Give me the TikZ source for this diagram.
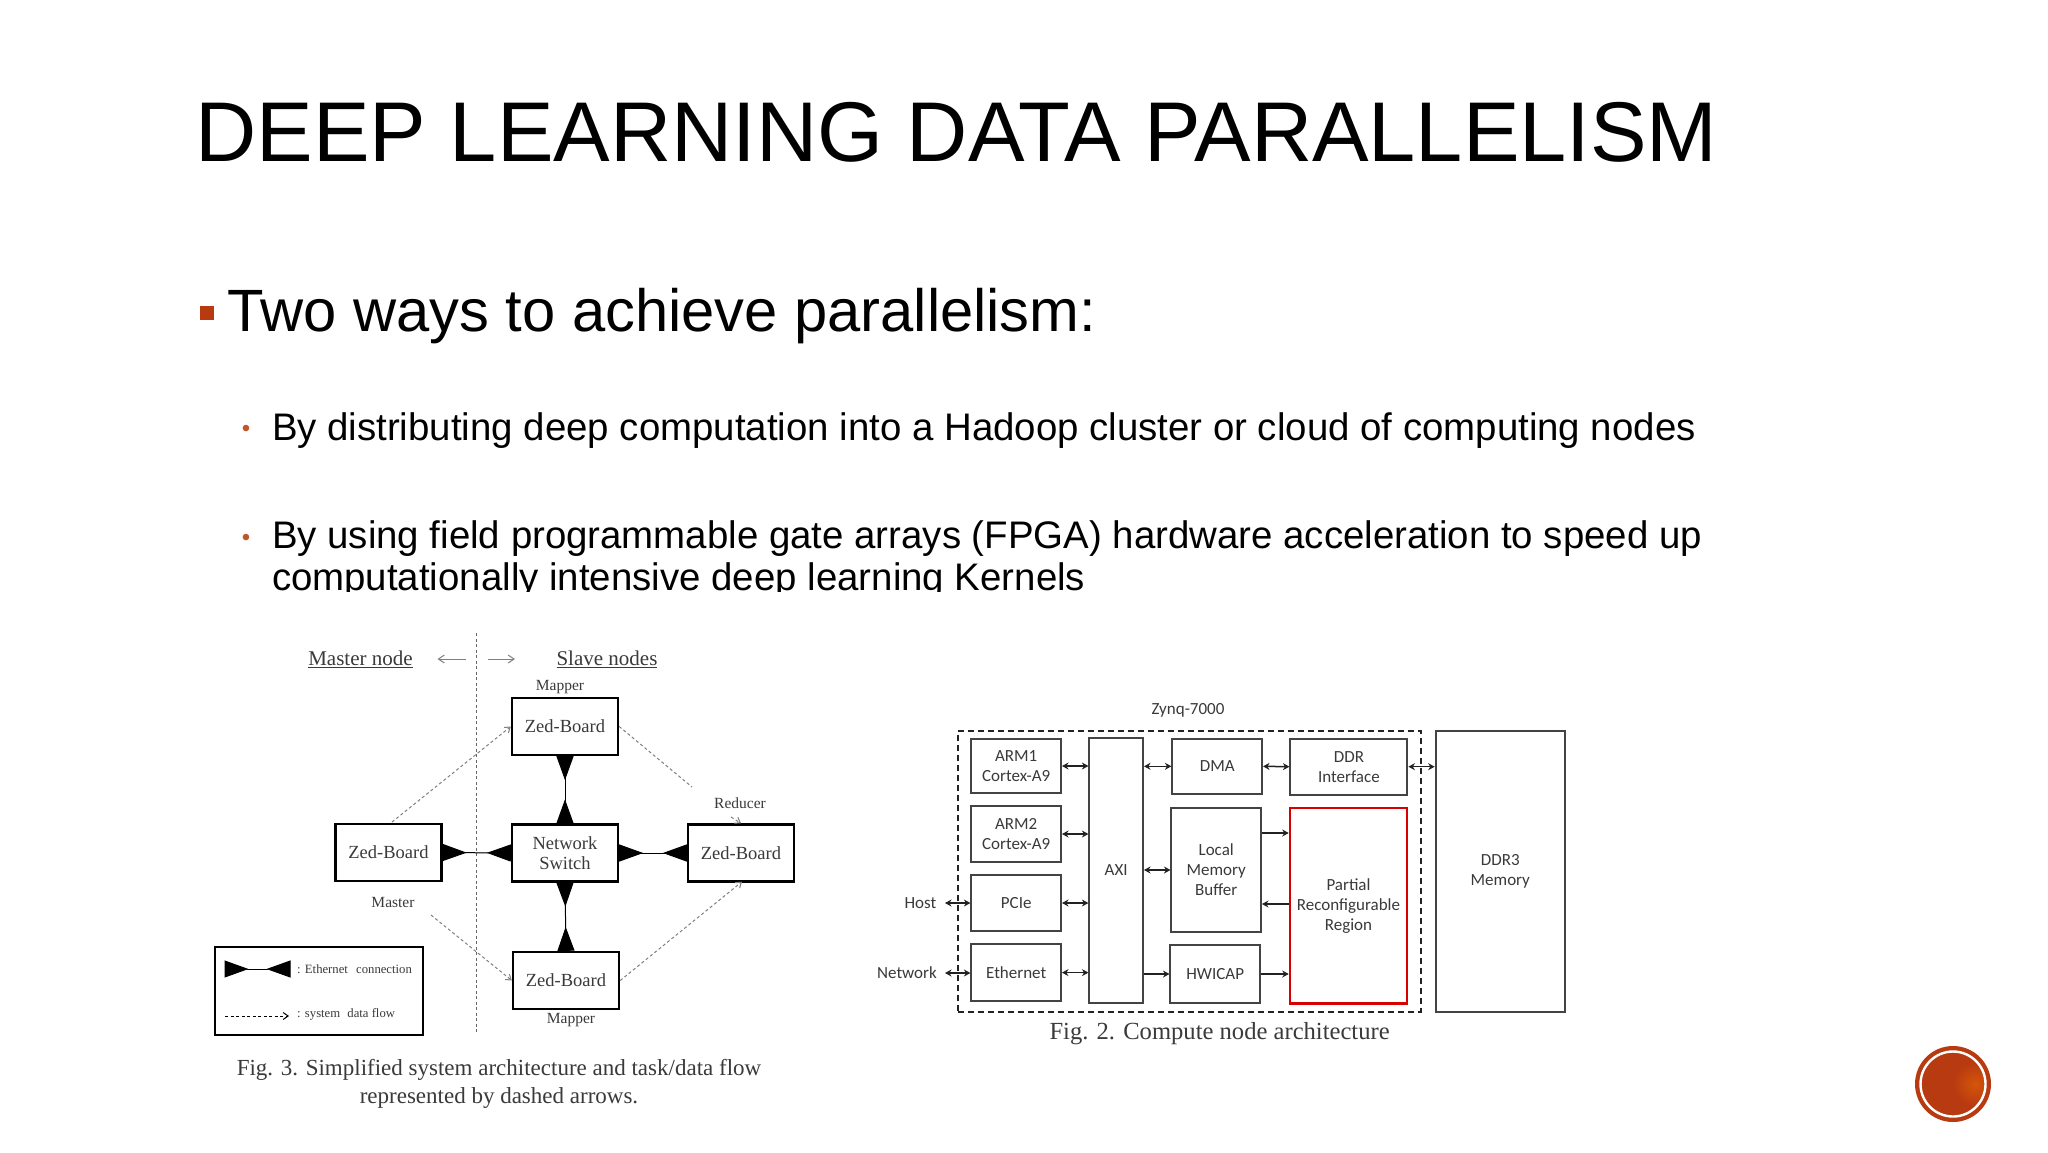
\documentclass[tikz,border=0pt]{standalone}
\usepackage{fontspec}
\setmainfont{Liberation Sans}
\newfontfamily\figserif{Liberation Serif}
\newfontfamily\figcal{Carlito}
\usetikzlibrary{arrows.meta,calc}
\definecolor{accent}{HTML}{B83A10}
\definecolor{bullet}{HTML}{C2552B}
\definecolor{figink}{HTML}{222222}
\definecolor{figtext}{HTML}{3A3A3A}
\newcommand{\fsz}[1]{\fontsize{#1}{#1}\selectfont}
\tikzset{
  x=1pt,y=-1pt,
  slidetext/.style={inner sep=0pt,outer sep=0pt,anchor=base west,text=black},
  zedbox/.style={draw=black,line width=2.4pt,minimum width=106pt,minimum height=57pt,inner sep=0pt,align=center,text=figtext,font=\figserif\fsz{18.5}},
  zedlabel/.style={inner sep=0pt,text=figtext,font=\figserif\fsz{15.5}},
  headlabel/.style={inner sep=0pt,text=figtext,font=\figserif\fsz{21}},
  captionlabel/.style={inner sep=0pt,text=figtext,font=\figserif\fsz{23},align=center},
  ethlink/.style={draw=black,line width=1pt,{Triangle[reversed,length=24pt,width=17pt]}-{Triangle[reversed,length=24pt,width=17pt]},fill=black},
  flow/.style={draw=gray,line width=1pt,dash pattern=on 3pt off 2.5pt,-{Straight Barb[length=5pt,width=7pt]}},
  flowplain/.style={draw=gray,line width=1pt,dash pattern=on 3pt off 2.5pt},
  cnode/.style={draw=figink!85,line width=2pt,inner sep=0pt,align=center,text=figtext,font=\figcal\fsz{17}},
  clabel/.style={inner sep=0pt,text=figtext,font=\figcal\fsz{17}},
  bidir/.style={draw=figink,line width=1.5pt,{Stealth[length=6.5pt,width=7pt]}-{Stealth[length=6.5pt,width=7pt]}},
  onedir/.style={draw=figink,line width=1.5pt,-{Stealth[length=6.5pt,width=7pt]}},
}
\begin{document}
\begin{tikzpicture}
\useasboundingbox (0,0) rectangle (2048,1152);
\fill[white] (0,0) rectangle (2048,1152);
% slide text
\node[slidetext,font=\fsz{84.8}] (title) at (195.5,161.5) {DEEP LEARNING DATA PARALLELISM};
\node[fill=accent,minimum size=14pt,inner sep=0pt] (b0) at (206.5,313) {};
\node[slidetext,font=\fsz{59.7}] (l0) at (227,331) {Two ways to achieve parallelism:};
\node[inner sep=0pt,text=bullet,font=\fsz{24}] (b1) at (246,431) {•};
\node[slidetext,font=\fsz{38.4}] (l1) at (272,440) {By distributing deep computation into a Hadoop cluster or cloud of computing nodes};
\node[inner sep=0pt,text=bullet,font=\fsz{24}] (b2) at (246,540) {•};
\node[slidetext,font=\fsz{38.4}] (l2) at (272,548) {By using field programmable gate arrays (FPGA) hardware acceleration to speed up};
\node[slidetext,font=\fsz{38.4}] (l3) at (272,590.5) {computationally intensive deep learning Kernels};
\fill[white] (200,592) rectangle (1800,640);

% Fig 3
\coordinate (divtop) at (476,633);
\coordinate (divbot) at (476,1032);
\draw[draw=gray!80!black,line width=1pt,dash pattern=on 3pt off 2.5pt] (divtop) -- (divbot);
\node[headlabel] (mn) at (360.5,659) {\underline{Master node}};
\node[headlabel] (sn) at (607,659) {\underline{Slave nodes}};
\coordinate (al1) at (466,659); \coordinate (al2) at (437.5,659);
\coordinate (ar1) at (488,659); \coordinate (ar2) at (515,659);
\draw[draw=gray,line width=1pt,-{Straight Barb[length=6pt,width=8pt]}] (al1) -- (al2);
\draw[draw=gray,line width=1pt,-{Straight Barb[length=6pt,width=8pt]}] (ar1) -- (ar2);
\node[zedbox] (tz) at (565,726.5) {Zed-Board};
\node[zedbox] (sw) at (565,853) {Network\\[1.5pt]Switch};
\node[zedbox] (lz) at (388.5,852.5) {Zed-Board};
\node[zedbox] (rz) at (741,853) {Zed-Board};
\node[zedbox] (bz) at (566,980.5) {Zed-Board};
\node[zedlabel] (m1) at (560,687) {Mapper};
\node[zedlabel] (re) at (740,803) {Reducer};
\node[zedlabel] (ma) at (393,902) {Master};
\node[zedlabel] (m2) at (571,1020.5) {Mapper};
\draw[ethlink] (tz.south) -- (sw.north);
\draw[ethlink] (lz.east) -- (sw.west);
\draw[ethlink] (sw.east) -- (rz.west);
\draw[ethlink] (sw.south) -- (bz.north);
\coordinate (fa) at (392,822);
\coordinate (fb) at (692,787);
\coordinate (fb2) at (731,817);
\coordinate (fc) at (431,915);
\coordinate (fd) at (742,881.7);
\draw[flow] (fa) -- (tz.west);
\draw[flowplain] (tz.east) -- (fb);
\draw[flow] (fb2) -- (rz.north);
\draw[flow] (fc) -- (bz.west);
\draw[flow] (bz.east) -- (fd);
\node[draw=black,line width=2.4pt,minimum width=208pt,minimum height=88pt,inner sep=0pt] (leg) at (319,991) {};
\coordinate (lg1) at (224.5,969); \coordinate (lg2) at (290.5,969);
\draw[draw=black,line width=1pt,{Triangle[reversed,length=24pt,width=17pt]}-{Triangle[reversed,length=24pt,width=17pt]},fill=black] (lg1) -- (lg2);
\coordinate (lg3) at (225,1016); \coordinate (lg4) at (289,1016);
\draw[draw=black,line width=1pt,dash pattern=on 3pt off 2.5pt,-{Straight Barb[length=5pt,width=7pt]}] (lg3) -- (lg4);
\node[inner sep=0pt,anchor=west,text=figtext,font=\figserif\fsz{12.7}] (lt1) at (297,969) {: Ethernet\hspace{5pt} connection};
\node[inner sep=0pt,anchor=west,text=figtext,font=\figserif\fsz{12.7}] (lt2) at (297,1014) {: system\hspace{4pt} data flow};
\node[captionlabel] (cap3) at (499,1083.5) {Fig. 3. Simplified system architecture and task/data flow\\[5pt]represented by dashed arrows.};

% Fig 2
\node[draw=figink,line width=2pt,dash pattern=on 6pt off 4pt,minimum width=462.6pt,minimum height=281pt,inner sep=0pt] (zynq) at (1189.3,871.2) {};
\node[clabel] (zl) at (1188,710.7) {Zynq-7000};
\node[cnode,minimum width=129.3pt,minimum height=281pt] (ddr3) at (1500.3,871) {DDR3\\[3pt]Memory};
\node[cnode,minimum width=89.6pt,minimum height=54.6pt] (arm1) at (1016.2,766) {ARM1\\[3pt]Cortex-A9};
\node[cnode,minimum width=89.6pt,minimum height=56pt] (arm2) at (1016.2,834) {ARM2\\[3pt]Cortex-A9};
\node[cnode,minimum width=89.6pt,minimum height=55.4pt] (pcie) at (1016.2,903) {PCIe};
\node[cnode,minimum width=89.6pt,minimum height=57.3pt] (eth) at (1016.2,972.6) {Ethernet};
\node[cnode,minimum width=53.6pt,minimum height=264.7pt] (axi) at (1116.2,870.3) {AXI};
\node[cnode,minimum width=89.6pt,minimum height=55.3pt] (dma) at (1217.2,766.3) {DMA};
\node[cnode,minimum width=117pt,minimum height=56pt] (ddri) at (1348.9,766.7) {DDR\\[3pt]Interface};
\node[cnode,minimum width=89.5pt,minimum height=124pt] (lmb) at (1216.2,870) {Local\\[3pt]Memory\\[3pt]Buffer};
\node[cnode,minimum width=89.5pt,minimum height=57.4pt] (hw) at (1215.2,974) {HWICAP};
\node[cnode,draw=red!85!black,line width=2.6pt,minimum width=117pt,minimum height=195.3pt] (pr) at (1348.5,905.6) {Partial\\[3pt]Reconfigurable\\[3pt]Region};
\node[clabel,anchor=center] (host) at (920.4,903.3) {Host};
\node[clabel,anchor=center] (net) at (907,972.7) {Network};
\coordinate (hostend) at (945,903);
\coordinate (netend) at (945,973);
\draw[bidir] (hostend) -- (hostend -| pcie.west);
\draw[bidir] (netend) -- (netend -| eth.west);
\draw[bidir] (arm1.east) -- (arm1.east -| axi.west);
\draw[bidir] (arm2.east) -- (arm2.east -| axi.west);
\draw[bidir] (pcie.east) -- (pcie.east -| axi.west);
\draw[bidir] (eth.east) -- (eth.east -| axi.west);
\draw[bidir] (dma.west) -- (dma.west -| axi.east);
\draw[bidir] (lmb.west) -- (lmb.west -| axi.east);
\draw[bidir] (dma.east) -- (ddri.west);
\draw[bidir] (ddri.east) -- (ddri.east -| ddr3.west);
\coordinate (p1) at (1290,833);
\coordinate (p2) at (1290,904);
\draw[onedir] (p1 -| lmb.east) -- (p1 -| pr.west);
\draw[onedir] (p2 -| pr.west) -- (p2 -| lmb.east);
\draw[onedir] (hw.west -| axi.east) -- (hw.west);
\draw[onedir] (hw.east) -- (hw.east -| pr.west);
\node[inner sep=0pt,text=figtext,font=\figserif\fsz{24.6}] (cap2) at (1219.6,1034) {Fig. 2. Compute node architecture};

% badge
\fill[accent] (1953,1084) circle (38);
\begin{scope}
\clip (1953,1084) circle (31);
\shade[inner color=orange!40!accent,outer color=accent] (1975,1084) circle (22);
\end{scope}
\draw[white,line width=2.4pt] (1953,1084) circle (32.5);
\end{tikzpicture}
\end{document}
